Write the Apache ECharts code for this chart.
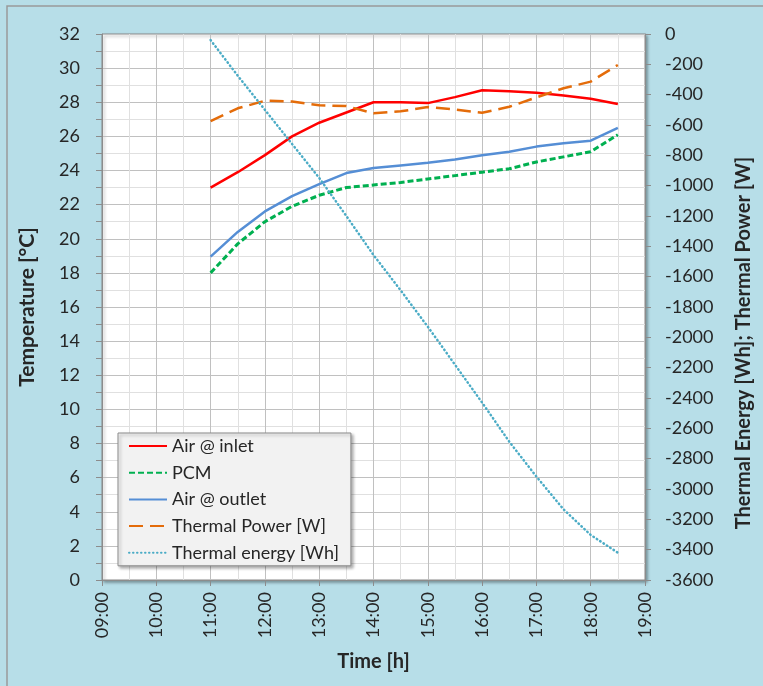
<!DOCTYPE html>
<html>
<head>
<meta charset="utf-8">
<script src="https://cdn.jsdelivr.net/npm/echarts@6/dist/echarts.min.js"></script>
<style>
  html, body { margin: 0; padding: 0; background: #B7DEE8; }
  #chart { width: 763px; height: 686px; }
</style>
</head>
<body>
<div id="chart"></div>
<script>
// time in hours (11:00 .. 18:30, every half hour)
var hours = [11, 11.5, 12, 12.5, 13, 13.5, 14, 14.5, 15, 15.5, 16, 16.5, 17, 17.5, 18, 18.5];
// temperatures [°C]
var airInlet  = [23.0, 23.9, 24.9, 26.0, 26.8, 27.4, 28.0, 28.0, 27.95, 28.3, 28.7, 28.65, 28.55, 28.4, 28.2, 27.9];
var pcm       = [18.0, 19.7, 21.0, 21.9, 22.55, 23.0, 23.15, 23.3, 23.5, 23.7, 23.9, 24.1, 24.5, 24.8, 25.1, 26.1];
var airOutlet = [18.95, 20.4, 21.6, 22.5, 23.2, 23.85, 24.15, 24.3, 24.45, 24.65, 24.9, 25.1, 25.4, 25.6, 25.75, 26.5];
// right axis
var thermalPower  = [-575, -490, -440, -445, -470, -475, -523, -510, -482, -498, -519, -480, -418, -358, -314, -204];
var thermalEnergy = [-40, -275, -500, -725, -949, -1200, -1457, -1690, -1930, -2180, -2430, -2688, -2918, -3134, -3303, -3420];

function pairs(vals) {
  var out = [];
  for (var i = 0; i < hours.length; i++) out.push([hours[i], vals[i]]);
  return out;
}

var font = 'Lato, "Open Sans", sans-serif';
var txt = '#262626';
var chart = echarts.init(document.getElementById('chart'));

chart.setOption({
  backgroundColor: '#B7DEE8',
  textStyle: { fontFamily: font },
  graphic: [{
    type: 'rect',
    shape: { x: 7, y: 6, width: 800, height: 720 },
    style: { fill: 'none', stroke: '#9a9a9a', lineWidth: 1.5 },
    silent: true
  }],
  grid: {
    left: 102, right: 118, top: 34, bottom: 106,
    show: true,
    backgroundColor: '#ffffff',
    borderColor: '#8c8c8c',
    borderWidth: 1,
    shadowColor: 'rgba(0,0,0,0.35)',
    shadowBlur: 3,
    shadowOffsetX: 2,
    shadowOffsetY: 2
  },
  legend: {
    orient: 'vertical',
    left: 118, top: 433,
    padding: [3, 12, 3, 10],
    itemGap: 6.7,
    itemWidth: 38,
    itemHeight: 14,
    backgroundColor: '#f2f2f2',
    borderColor: '#8c8c8c',
    borderWidth: 1,
    borderRadius: 0,
    shadowColor: 'rgba(0,0,0,0.3)',
    shadowBlur: 3,
    shadowOffsetX: 2,
    shadowOffsetY: 2,
    itemStyle: { opacity: 0 },
    textStyle: { fontSize: 18, color: txt, fontFamily: font, lineHeight: 20 },
    data: ['Air @ inlet', 'PCM', 'Air @ outlet', 'Thermal Power [W]', 'Thermal energy [Wh]']
  },
  xAxis: {
    type: 'value',
    min: 9, max: 19, interval: 1,
    name: 'Time [h]',
    nameLocation: 'middle',
    nameGap: 72,
    nameTextStyle: { fontSize: 20, fontWeight: 'bold', color: txt, fontFamily: font },
    axisLine: { show: true, lineStyle: { color: '#8c8c8c' } },
    axisTick: { show: true, length: 6, lineStyle: { color: '#8c8c8c' } },
    axisLabel: {
      rotate: 90, fontSize: 18, color: txt, margin: 12,
      formatter: function (v) { return (v < 10 ? '0' : '') + v + ':00'; }
    },
    splitLine: { show: true, lineStyle: { color: '#c0c0c0', width: 1 } },
    minorTick: { show: false, splitNumber: 2 },
    minorSplitLine: { show: true, lineStyle: { color: '#e0e0e0', width: 1 } }
  },
  yAxis: [{
    type: 'value',
    min: 0, max: 32, interval: 2,
    name: 'Temperature [°C]',
    nameLocation: 'middle',
    nameGap: 64,
    nameTextStyle: { fontSize: 21, fontWeight: 'bold', color: txt, fontFamily: font },
    axisLine: { show: true, lineStyle: { color: '#8c8c8c' } },
    axisTick: { show: true, length: 6, lineStyle: { color: '#8c8c8c' } },
    minorTick: { show: true, splitNumber: 2, length: 6, lineStyle: { color: '#8c8c8c' } },
    axisLabel: { fontSize: 18, color: txt, margin: 22 },
    splitLine: { show: true, lineStyle: { color: '#c0c0c0', width: 1 } },
    minorSplitLine: { show: true, lineStyle: { color: '#e0e0e0', width: 1 } }
  }, {
    type: 'value',
    min: -3600, max: 0, interval: 200,
    position: 'right',
    name: 'Thermal Energy [Wh]; Thermal Power [W]',
    nameLocation: 'middle',
    nameGap: 89,
    nameRotate: 90,
    nameTextStyle: { fontSize: 20, fontWeight: 'bold', color: txt, fontFamily: font, padding: [0, 72, 0, 0] },
    axisLine: { show: true, lineStyle: { color: '#8c8c8c' } },
    axisTick: { show: true, length: 6, lineStyle: { color: '#8c8c8c' } },
    axisLabel: { fontSize: 18, color: txt, margin: 20, formatter: function (v) { return String(v); } },
    splitLine: { show: false }
  }],
  series: [{
    name: 'Air @ inlet', type: 'line', symbol: 'none',
    lineStyle: { color: '#FF0000', width: 2.5 },
    itemStyle: { color: '#FF0000' },
    data: pairs(airInlet)
  }, {
    name: 'PCM', type: 'line', symbol: 'none',
    lineStyle: { color: '#00B050', width: 3, type: [6, 3] },
    itemStyle: { color: '#00B050' },
    data: pairs(pcm)
  }, {
    name: 'Air @ outlet', type: 'line', symbol: 'none',
    lineStyle: { color: '#558ED5', width: 2.5 },
    itemStyle: { color: '#558ED5' },
    data: pairs(airOutlet)
  }, {
    name: 'Thermal Power [W]', type: 'line', symbol: 'none', yAxisIndex: 1,
    lineStyle: { color: '#E46C0A', width: 2.5, type: [14, 7] },
    itemStyle: { color: '#E46C0A' },
    data: pairs(thermalPower)
  }, {
    name: 'Thermal energy [Wh]', type: 'line', symbol: 'none', yAxisIndex: 1,
    lineStyle: { color: '#4BACC6', width: 2.5, type: [0.5, 3.5], cap: 'round' },
    itemStyle: { color: '#4BACC6' },
    data: pairs(thermalEnergy)
  }]
});
</script>
</body>
</html>
